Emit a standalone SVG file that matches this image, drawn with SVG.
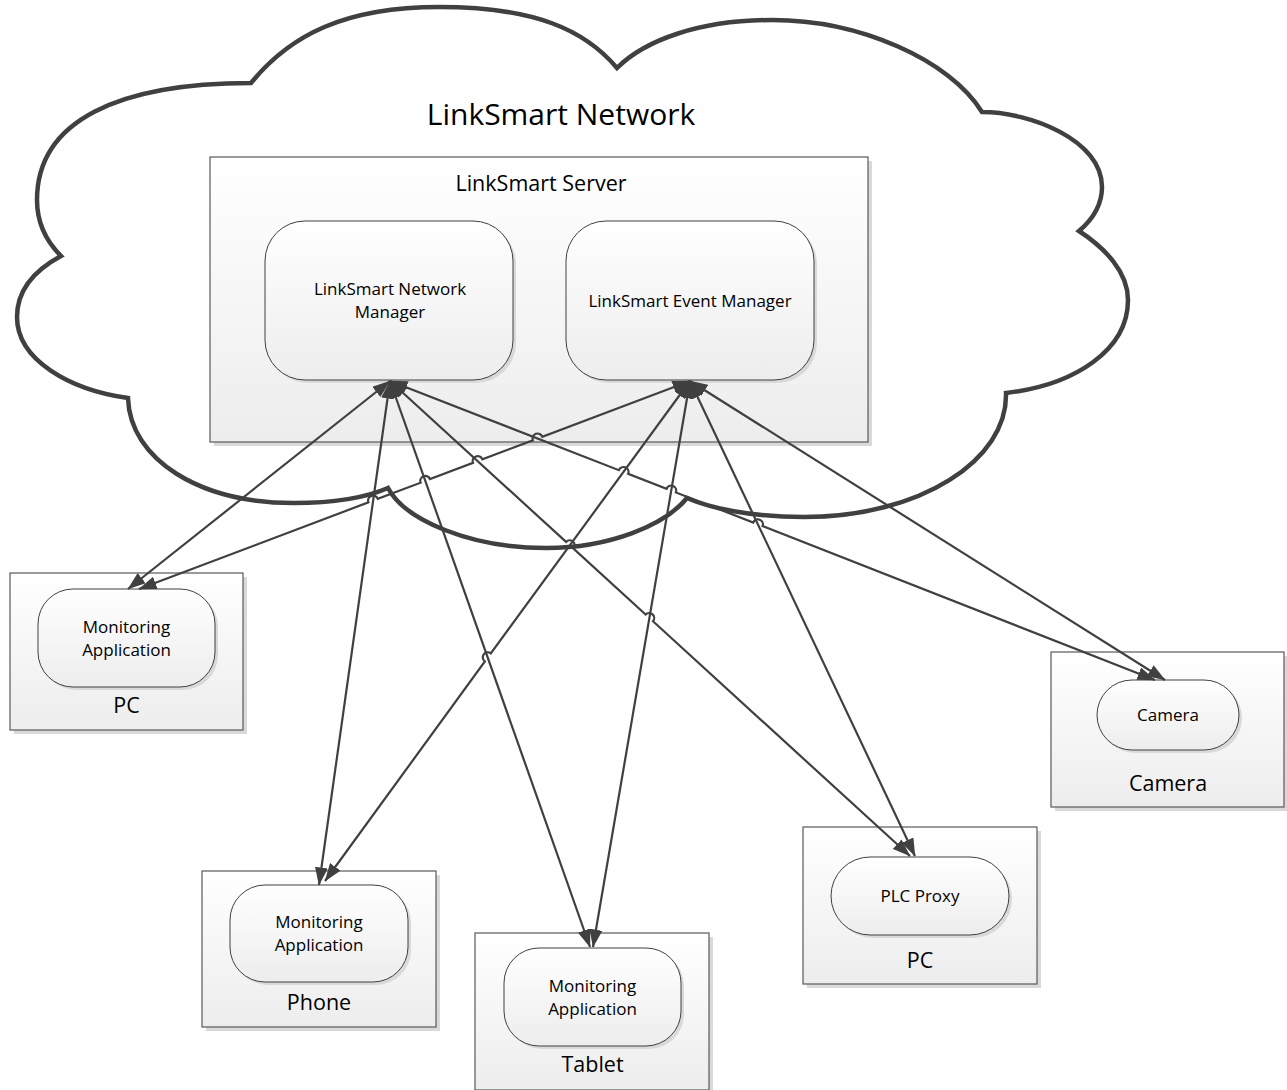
<svg xmlns="http://www.w3.org/2000/svg" width="1287" height="1090" viewBox="0 0 1287 1090">
<style>
.cloud{fill:#ffffff;stroke:#404040;stroke-width:4.5;stroke-linejoin:miter;stroke-miterlimit:3}
.box{fill:url(#g);stroke:#595959;stroke-width:1.2}
.shadow{fill:#d9d9d9}
.pill{fill:url(#g);stroke:#404040;stroke-width:1}
.t{font-family:'Open Sans','Liberation Sans',sans-serif;fill:#000000;text-anchor:middle}
.s17{font-size:17px}
.s21{font-size:21.5px}
.s30{font-size:30px}
.conn path{fill:none;stroke:#404040;stroke-width:2.2;marker-start:url(#arr);marker-end:url(#arr)}
</style>
<defs>
<linearGradient id="g" x1="0" y1="0" x2="0" y2="1">
<stop offset="0" stop-color="#ffffff"/>
<stop offset="1" stop-color="#ededed"/>
</linearGradient>
<marker id="arr" viewBox="0 0 18 13" refX="17.5" refY="6.5" markerWidth="18" markerHeight="13" markerUnits="userSpaceOnUse" orient="auto-start-reverse">
<path d="M0,0 L18,6.5 L0,13 z" fill="#404040"/>
</marker>
</defs>
<rect width="1287" height="1090" fill="#ffffff"/>
<g id="network">
<path class="cloud" d="M251,83 C290,35 345,7 439,7 C535,7 585,30 617,68 C645,40 700,20 772,20 C860,20 950,60 982,112 C1030,112 1102,140 1102,187 C1102,205 1092,220 1079,231 C1105,248 1128,272 1128,300 C1128,350 1075,385 1006,393 C1008,460 920,517 804,517 C750,517 710,508 687,498 C665,525 610,548 546,548 C470,548 405,520 388,488 C365,498 330,503 294,503 C200,503 130,460 128,398 C70,390 17,360 17,317 C17,290 35,270 61,256 C45,240 37,220 37,200 C37,120 120,83 251,83 Z"/>
<text class="t s30" x="561" y="125">LinkSmart Network</text>
</g>
<g id="server">
<rect class="shadow" x="214" y="161" width="658" height="285"/>
<rect class="box" x="210" y="157" width="658" height="285"/>
<text class="t s21" x="541" y="191">LinkSmart Server</text>
</g>
<g id="network-manager">
<rect class="shadow" x="268" y="224" width="248" height="159" rx="40"/>
<rect class="pill" x="265" y="221" width="248" height="159" rx="40"/>
<text class="t s17" x="390" y="295">LinkSmart Network</text>
<text class="t s17" x="390" y="318">Manager</text>
</g>
<g id="event-manager">
<rect class="shadow" x="569" y="224" width="248" height="159" rx="40"/>
<rect class="pill" x="566" y="221" width="248" height="159" rx="40"/>
<text class="t s17" x="690" y="307">LinkSmart Event Manager</text>
</g>
<g id="pc1">
<rect class="shadow" x="14" y="577" width="233" height="157"/>
<rect class="box" x="10" y="573" width="233" height="157"/>
<rect class="shadow" x="41" y="592" width="177" height="98" rx="35"/>
<rect class="pill" x="38" y="589" width="177" height="98" rx="35"/>
<text class="t s17" x="126.5" y="633">Monitoring</text>
<text class="t s17" x="126.5" y="656">Application</text>
<text class="t s21" x="126.5" y="713">PC</text>
</g>
<g id="phone">
<rect class="shadow" x="206" y="875" width="234" height="156"/>
<rect class="box" x="202" y="871" width="234" height="156"/>
<rect class="shadow" x="233" y="888" width="178" height="97" rx="35"/>
<rect class="pill" x="230" y="885" width="178" height="97" rx="35"/>
<text class="t s17" x="319" y="928">Monitoring</text>
<text class="t s17" x="319" y="951">Application</text>
<text class="t s21" x="319" y="1010">Phone</text>
</g>
<g id="tablet">
<rect class="shadow" x="479" y="937" width="234" height="157"/>
<rect class="box" x="475" y="933" width="234" height="157"/>
<rect class="shadow" x="507" y="951" width="177" height="98" rx="35"/>
<rect class="pill" x="504" y="948" width="177" height="98" rx="35"/>
<text class="t s17" x="592.5" y="992">Monitoring</text>
<text class="t s17" x="592.5" y="1015">Application</text>
<text class="t s21" x="592.5" y="1072">Tablet</text>
</g>
<g id="pc2">
<rect class="shadow" x="807" y="831" width="234" height="157"/>
<rect class="box" x="803" y="827" width="234" height="157"/>
<rect class="shadow" x="834" y="860" width="178" height="78" rx="39"/>
<rect class="pill" x="831" y="857" width="178" height="78" rx="39"/>
<text class="t s17" x="920" y="902">PLC Proxy</text>
<text class="t s21" x="920" y="968">PC</text>
</g>
<g id="camera">
<rect class="shadow" x="1055" y="656" width="233" height="155"/>
<rect class="box" x="1051" y="652" width="233" height="155"/>
<rect class="shadow" x="1100" y="683" width="142" height="70" rx="35"/>
<rect class="pill" x="1097" y="680" width="142" height="70" rx="35"/>
<text class="t s17" x="1168" y="721">Camera</text>
<text class="t s21" x="1168" y="791">Camera</text>
</g>
<g id="connectors" class="conn">
<path d="M390,381 L128,589"/>
<path d="M390,381 L319,885"/>
<path d="M390,381 L590,947"/>
<path d="M390,381 L566.11,541.93 A5,5 0 0 1 573.49,548.67 L645.61,614.53 A5,5 0 0 1 652.99,621.27 L910,856"/>
<path d="M390,381 L618.84,470.19 A5,5 0 0 1 628.16,473.82 L666.54,488.79 A5,5 0 0 1 675.86,492.42 L753.24,522.49 A5,5 0 0 1 762.56,526.12 L1155,680"/>
<path d="M690,381 L542.28,436.73 A5,5 0 0 0 532.92,440.27 L482.38,459.33 A5,5 0 0 0 473.02,462.87 L429.98,479.13 A5,5 0 0 0 420.62,482.67 L377.78,498.83 A5,5 0 0 0 368.42,502.37 L139,589"/>
<path d="M690,381 L490.75,653.36 A5,5 0 0 0 484.85,661.44 L325,881"/>
<path d="M690,381 L593,947"/>
<path d="M690,381 L915,856"/>
<path d="M690,381 L1165,680"/>
</g>
</svg>
